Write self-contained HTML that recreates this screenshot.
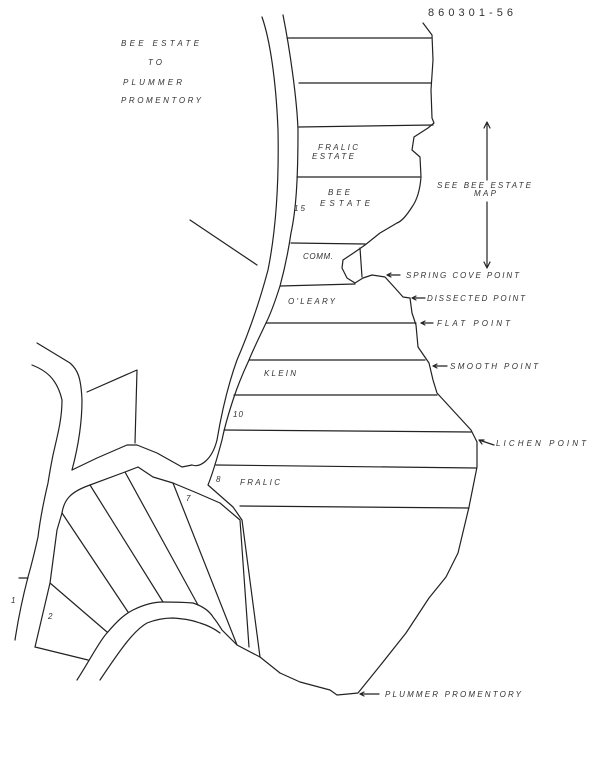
<!DOCTYPE html>
<html><head><meta charset="utf-8"><style>
html,body{margin:0;padding:0;background:#fff;}
svg{display:block}
text{font-family:"Liberation Sans",sans-serif;font-style:italic;font-size:8px;fill:#333;}
</style></head><body>
<svg width="600" height="773" viewBox="0 0 600 773" xmlns="http://www.w3.org/2000/svg">
<g fill="none" stroke="#222" stroke-width="1.2" stroke-linejoin="round" stroke-linecap="round">
<!-- main road -->
<path d="M262,17 C270,40 276,80 278,130 C279,180 276,230 268,270 C260,300 250,330 237,360 C228,385 222,410 217,440 C212,460 200,468 192,465"/>
<path d="M283,15 C290,50 297,100 298,130 C298,180 296,210 291,233 C287,260 283,275 280,286 C274,305 270,315 266,323 C258,340 253,350 249,360 C242,375 238,385 234,397 C228,415 224,430 222,440 C218,455 212,475 208,485 L233,507 L242,520 L260,657"/>
<!-- cross road -->
<path d="M72,470 L97,458 L127,445 L137,445 L157,453 L182,467 L192,465"/>
<!-- left road -->
<path d="M37,343 L70,363 C78,370 81,378 82,400 C82,430 76,455 72,470"/>
<path d="M32,365 C45,370 57,378 62,400 C62,420 57,437 53,455 C50,470 48,483 48,483 C44,500 40,520 38,537 C34,555 30,570 28,577 C22,600 18,620 15,640"/>
<!-- small lot -->
<path d="M87,392 L137,370 L135,443"/>
<path d="M190,220 L257,265"/>
<path d="M19,578 L28,578"/>
<!-- block -->
<path d="M62,513 C64,500 70,492 90,485 L125,472 L138,467 L153,477 L173,483 L197,493 L220,503 L240,520 L249,647"/>
<path d="M62,513 L57,530 L50,583 L35,647 L88,660"/>
<path d="M50,583 L107,632"/>
<path d="M62,513 L128,612"/>
<path d="M90,485 L163,602"/>
<path d="M125,472 L198,605"/>
<path d="M173,483 L237,645"/>
<!-- lower road arc -->
<path d="M77,680 C90,660 100,640 107,633 C118,620 125,614 133,610 C145,604 155,602 163,602 C180,602 193,603 193,603 C205,607 210,612 213,617 C218,623 220,627 222,630 L237,645 L260,657 L280,673"/>
<path d="M100,680 C110,665 117,655 123,647 C132,635 140,627 147,623 C157,619 165,618 173,618 C185,619 192,620 200,623 C210,626 216,630 220,633"/>
<!-- coastline -->
<path d="M423,23 L432,35 L433,60 L431,90 L432,118 L434,123 L428,128 L414,137 L412,150 L420,157 L421,177 C420,190 417,200 412,207 C405,218 400,222 397,223 L380,233 L365,245 L355,252 L343,260 L342,268 L347,278 L355,283 L363,278 L372,275 L385,277 L395,288 L403,297 L410,298 L412,313 L416,325 L418,347 L429,363 L433,380 L437,393 L471,430 L477,442 L477,467 L469,507 L458,553 L446,577 L429,598 L406,633 L379,667 L358,693 L348,694 L337,695 L330,690 L300,682 L280,673"/>
<path d="M360,248 L362,277"/>
<!-- lot lines -->
<path d="M287,38 L431,38"/>
<path d="M299,83 L431,83"/>
<path d="M299,127 L433,125"/>
<path d="M297,177 L420,177"/>
<path d="M291,243 L365,244"/>
<path d="M280,286 L355,284"/>
<path d="M266,323 L416,323"/>
<path d="M249,360 L425,360"/>
<path d="M234,395 L437,395"/>
<path d="M224,430 L471,432"/>
<path d="M216,465 L476,468"/>
<path d="M240,506 L469,508"/>
<!-- dimension arrow -->
<path d="M487,123 L487,180 M487,202 L487,267"/>
<path d="M484,128 L487,122 L490,128 M484,262 L487,268 L490,262"/>
<!-- pointer arrows -->
<path d="M387,275 L400,275 M387,275 L391,273 M387,275 L391,277"/>
<path d="M412,298 L425,298 M412,298 L416,296 M412,298 L416,300"/>
<path d="M421,323 L433,323 M421,323 L425,321 M421,323 L425,325"/>
<path d="M433,366 L447,366 M433,366 L437,364 M433,366 L437,368"/>
<path d="M479,440 L494,445 M479,440 L484,440 M479,440 L482,444"/>
<path d="M360,694 L379,694 M360,694 L364,692 M360,694 L364,696"/>
</g>
<g>
<text x="428" y="16" textLength="85" style="font-style:normal;font-size:11px">860301-56</text>
<text x="121" y="46" textLength="78">BEE ESTATE</text>
<text x="148" y="65" textLength="14">TO</text>
<text x="123" y="85" textLength="59">PLUMMER</text>
<text x="121" y="103" textLength="80">PROMENTORY</text>
<text x="318" y="150" textLength="40">FRALIC</text>
<text x="312" y="159" textLength="42">ESTATE</text>
<text x="328" y="195" textLength="22">BEE</text>
<text x="320" y="206" textLength="50">ESTATE</text>
<text x="294" y="211" textLength="11">15</text>
<text x="303" y="259" textLength="30">COMM.</text>
<text x="288" y="304" textLength="47">O'LEARY</text>
<text x="264" y="376" textLength="32">KLEIN</text>
<text x="437" y="188" textLength="94">SEE BEE ESTATE</text>
<text x="474" y="196" textLength="22">MAP</text>
<text x="406" y="278" textLength="113">SPRING COVE POINT</text>
<text x="427" y="301" textLength="98">DISSECTED POINT</text>
<text x="437" y="326" textLength="73">FLAT POINT</text>
<text x="450" y="369" textLength="88">SMOOTH POINT</text>
<text x="233" y="417" textLength="10">10</text>
<text x="496" y="446" textLength="90">LICHEN POINT</text>
<text x="216" y="482">8</text>
<text x="240" y="485" textLength="40">FRALIC</text>
<text x="186" y="501">7</text>
<text x="11" y="603">1</text>
<text x="48" y="619">2</text>
<text x="385" y="697" textLength="136">PLUMMER PROMENTORY</text>
</g>
</svg>
</body></html>
